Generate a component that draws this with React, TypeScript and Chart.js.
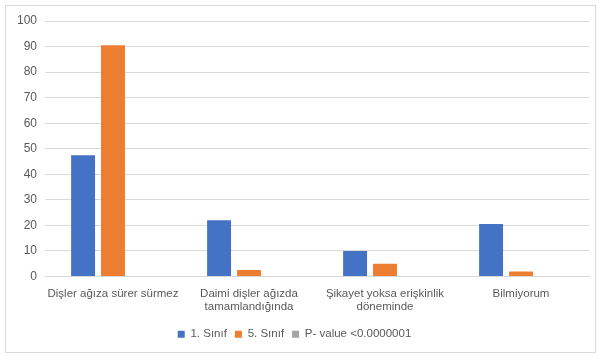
import React, { useEffect, useRef } from "react";
import { Chart, registerables } from "chart.js";

Chart.register(...registerables);

const categories: string[][] = [
  ["Dişler ağıza sürer sürmez"],
  ["Daimi dişler ağızda", "tamamlandığında"],
  ["Şikayet yoksa erişkinlik", "döneminde"],
  ["Bilmiyorum"],
];
const sinif1: number[] = [47.5, 22, 10, 20.5];
const sinif5: number[] = [90.5, 2.5, 5, 2];
const pValue: number[] = [0, 0, 0, 0];
const seriesNames: string[] = ["1. Sınıf", "5. Sınıf", "P- value <0.0000001"];

const FONT = "'Liberation Sans', Arial, sans-serif";
const TEXT = "#595959";
const GRID = "#d9d9d9";

export default function App() {
  const ref = useRef<HTMLCanvasElement | null>(null);
  useEffect(() => {
    if (!ref.current) return;
    const chart = new Chart(ref.current, {
      type: "bar",
      data: {
        labels: categories,
        datasets: [
          { label: seriesNames[0], data: sinif1, backgroundColor: "#4472C4" },
          { label: seriesNames[1], data: sinif5, backgroundColor: "#ED7D31" },
          { label: seriesNames[2], data: pValue, backgroundColor: "#A5A5A5" },
        ],
      },
      options: {
        animation: false,
        responsive: false,
        maintainAspectRatio: false,
        layout: { padding: { left: 0, right: 10, top: 21, bottom: 6 } },
        datasets: { bar: { barPercentage: 0.8, categoryPercentage: 0.66 } },
        plugins: {
          tooltip: { enabled: false },
          legend: {
            position: "bottom",
            labels: {
              boxWidth: 7,
              boxHeight: 7,
              padding: 8,
              color: TEXT,
              font: { family: FONT, size: 11.5 },
            },
          },
        },
        scales: {
          x: {
            grid: { display: false, drawTicks: false },
            border: { display: true, color: GRID },
            ticks: {
              color: TEXT,
              font: { family: FONT, size: 11.5, lineHeight: 1.2 },
              padding: 10,
              maxRotation: 0,
              autoSkip: false,
            },
            afterFit: (s: any) => {
              s.height = 44;
            },
          },
          y: {
            min: 0,
            max: 100,
            grid: { color: GRID, drawTicks: false },
            border: { display: false },
            ticks: {
              stepSize: 10,
              color: TEXT,
              font: { family: FONT, size: 12 },
              padding: 8,
            },
            afterFit: (s: any) => {
              s.width = 45;
            },
          },
        },
      },
    });
    return () => chart.destroy();
  }, []);
  return (
    <div
      style={{
        position: "fixed",
        left: 0,
        top: 0,
        width: 599,
        height: 356,
        background: "#fff",
      }}
    >
      <div
        style={{
          position: "absolute",
          left: 5,
          top: 5,
          width: 591,
          height: 348,
          border: "1px solid #d9d9d9",
          boxSizing: "border-box",
        }}
      />
      <canvas
        ref={ref}
        width={599}
        height={356}
        style={{ position: "absolute", left: 0, top: 0 }}
      />
    </div>
  );
}
